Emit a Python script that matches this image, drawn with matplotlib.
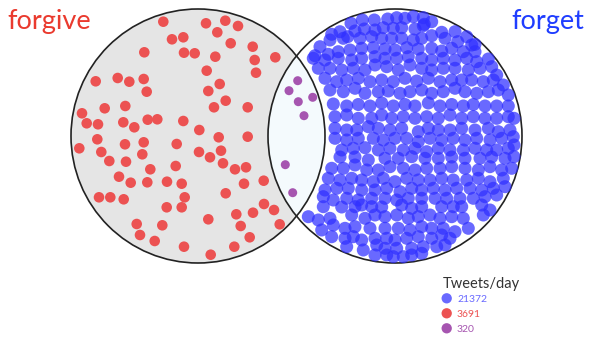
import numpy as np
import matplotlib
matplotlib.use("Agg")
import matplotlib.pyplot as plt
from matplotlib.patches import Circle

# circle layout, in picture pixels
left_center = (198, 136)
right_center = (395, 136)
radius = 127

# dots (pixel coords)
red_dots = [
    (163.3, 21.7), (206, 23.3), (225.3, 20.7), (238, 26), (217.3, 32.3), (172, 39.3),
    (183.3, 37.3), (230.7, 43.3), (252.7, 46.7), (144.3, 52.3), (184, 52.7), (194.7, 53.3),
    (215.3, 56.7), (275.3, 57.3), (254.7, 60), (206.7, 70.7), (256, 72.7), (95.7, 81.3),
    (117.7, 78), (129.3, 81.7), (143.7, 79), (219.7, 84), (146.7, 91.7), (208.3, 91),
    (225.7, 100.7), (104.7, 108.3), (125.3, 106), (214, 107.3), (247.7, 107.3), (82, 113.3),
    (86.7, 123.3), (98, 124.3), (123.3, 122.3), (134.3, 127.3), (147.7, 119.7), (157.3, 119.3),
    (183.3, 121), (199.3, 130),
    (79.3, 148.3), (97.3, 139.3), (125, 144.3), (143.7, 142.3), (176.7, 144), (218.7, 137.3),
    (247.7, 136.7), (101.3, 152), (142.3, 154.3), (199, 152), (210, 157.3), (221, 150.7),
    (109.3, 161), (126, 161.7), (150.3, 169.3), (175.7, 166), (223, 163.3), (235, 169.3),
    (246, 167.3), (119, 176.7), (130.7, 182.7), (147.3, 182.3), (167, 181.7), (181.7, 183.7),
    (244, 183.7), (263.7, 180.7), (99, 197.3), (110.3, 197.3), (123.7, 199.3), (184.7, 197.3),
    (225.7, 193.3), (166.7, 207.3), (181.7, 207.3), (264, 204), (274, 210), (236.3, 214.3),
    (253, 212.7), (208.3, 219.3), (136.7, 224), (162.3, 225.3), (240.7, 226), (279.7, 224.3),
    (140, 235), (154.7, 241), (249.7, 237.3), (184, 246.7), (234.3, 246.7), (210.7, 254.7),
]

purple_dots = [
    (297.7, 80.7), (289, 90.7), (312.7, 97.3), (298.3, 101.7), (304, 115.7),
    (285.3, 164.7), (292.7, 192.7),
]

blue_dots = [
    (351, 23.3), (362.3, 20), (374.3, 20), (387.7, 19), (396.7, 17.7), (405, 18.3),
    (413.3, 16.7), (423.3, 17.7), (431.7, 21.7), (424.3, 24.3),
    (331.7, 34.3), (340, 31.7), (347.7, 36.7), (355, 31), (364.3, 29), (375, 30),
    (383.3, 27.7), (393.3, 28.3), (401.7, 27.7), (415, 29), (423.3, 25.7), (441.7, 32.3),
    (455, 31.7), (466.7, 36.7), (475, 44.3),
    (320, 46.7), (330, 40), (343.3, 38.3), (360, 38.3), (371.7, 36.7), (381.7, 38.3),
    (391.7, 38.3), (401.7, 38.3), (413.3, 40), (421.7, 38.3), (431.7, 35.7), (445, 38.3),
    (457.7, 41.7), (471.7, 45),
    (315, 55.7), (328.3, 54.3), (338.3, 51.7), (350, 50), (361.7, 48.3), (373.3, 47.7),
    (385, 49), (395, 50), (406.7, 47.7), (418.3, 49), (431.7, 48.3), (441.7, 51),
    (451.7, 48.3), (463.3, 51.7), (475, 51.7), (488.3, 59),
    (313.3, 58.3), (325, 60), (338.3, 58.3), (351.7, 60), (361.7, 58.3), (375, 56.7),
    (385, 58.3), (396.7, 58.3), (408.3, 56.7), (421.7, 58.3), (431.7, 60), (443.3, 58.3),
    (455, 60), (466.7, 58.3), (476.7, 61.7),
    (318.3, 68.3), (330, 68.3), (341.7, 70), (353.3, 68.3), (365, 70), (375, 65),
    (386.7, 66.7), (398.3, 70), (410, 65), (421.7, 68.3), (431.7, 70), (443.3, 68.3),
    (455, 68.3), (468.3, 70), (480, 68.3), (491.7, 66.7), (496.7, 75),
    (325, 78.3), (336.7, 81.7), (346.7, 80), (358.3, 78.3), (370, 81.7), (381.7, 80),
    (393.3, 81.7), (405, 78.3), (416.7, 81), (428.3, 78.3), (440, 81.7), (451.7, 80),
    (461.7, 80), (471.7, 80), (483.3, 81.7), (493.3, 80), (503.3, 85),
    (330, 90), (343.3, 91.7), (355, 88.3), (365, 93.3), (378.3, 91.7), (388.3, 91),
    (400, 93.3), (410, 91.7), (421.7, 90), (431.7, 93.3), (443.3, 91.7), (455, 88.3),
    (465, 91.7), (476.7, 93.3), (488.3, 91.7), (498.3, 90), (508.3, 95),
    (333.3, 104), (346.7, 106), (358.3, 104.5), (370, 106), (381.7, 103), (393.3, 106),
    (405, 104.5), (415, 106), (428.3, 103), (440, 106), (451.7, 104.5), (463.3, 106),
    (473.3, 104.5), (485, 106), (496.7, 106), (508.3, 106),
    (335, 116.7), (346.7, 115), (358.3, 118.3), (371.7, 118.3), (381.7, 115), (391.7, 118.3),
    (403.3, 116.7), (415, 118.3), (426.7, 116.7), (438.3, 118.3), (450, 115), (461.7, 118.3),
    (473.3, 116.7), (485, 118.3), (496.7, 118.3), (508.3, 116.7), (514, 118.3),
    (335, 128.3), (346.7, 130), (356.7, 130), (368.3, 126.7), (378.3, 128.3), (390, 130),
    (401.7, 128.3), (418.3, 131.7), (428.3, 128.3), (438.3, 130), (450, 130), (461.7, 128.3),
    (475, 130), (488.3, 128.3), (498.3, 131.7), (510, 130),
    (335, 138.3), (346.7, 140), (358.3, 138.3), (373.3, 138.3), (383.3, 140), (395, 138.3),
    (406.7, 138.3), (418.3, 141.7), (430, 138.3), (441.7, 140), (453.3, 138.3), (465, 140),
    (476.7, 138.3), (490, 140), (501.7, 138.3), (513.3, 136.7),
    (341.7, 150), (353.3, 148.3), (365, 147.7), (378.3, 150), (390, 148.3), (403.3, 150),
    (415, 148.3), (426.7, 151.7), (438.3, 148.3), (450, 150), (463.3, 150), (475, 148.3),
    (486.7, 150), (496.7, 150), (508.3, 148.3), (514, 145),
    (340, 157), (355, 157), (368.3, 160), (385, 158.3), (398.3, 158.3), (411.7, 156.7),
    (425, 158.3), (438.3, 158.3), (451.7, 157), (465, 158.3), (480, 158.3), (491.7, 157),
    (505, 158.3), (514, 156.7),
    (331.7, 168.3), (343.3, 168.3), (355, 165), (366.7, 170), (378.3, 170), (390, 166.7),
    (403.3, 168.3), (415, 170), (426.7, 168.3), (440, 168.3), (451.7, 166.7), (465, 168.3),
    (478.3, 170), (490, 166.7), (501.7, 170), (511.7, 168.3),
    (328.3, 178.3), (340, 180), (351.7, 178.3), (361.7, 180), (373.3, 181.7), (383.3, 178.3),
    (395, 181.7), (406.7, 178.3), (418.3, 180), (430, 180), (441.7, 178.3), (453.3, 180),
    (466.7, 180), (478.3, 178.3), (490, 181.7), (503.3, 178.3),
    (325, 190), (336.7, 188.3), (348.3, 188.3), (361.7, 190), (375, 190), (386.7, 188.3),
    (400, 191.7), (411.7, 188.3), (421.7, 190), (433.3, 188.3), (445, 190), (456.7, 188.3),
    (470, 188.3), (481.7, 190), (493.3, 188.3), (505, 186.7),
    (323.3, 196.7), (333.3, 200), (346.7, 198.3), (358.3, 200), (371.7, 198.3), (385, 198.3),
    (396.7, 200), (408.3, 198.3), (421.7, 198.3), (435, 198.3), (446.7, 198.3), (460, 198.3),
    (473.3, 198.3), (485, 196.7), (496.7, 195),
    (323.3, 206.7), (341.7, 207), (355, 206.7), (361.7, 205), (371.7, 206.7), (381.7, 207),
    (401.7, 205), (411.7, 208.3), (421.7, 206.7), (441.7, 206.7), (453.3, 206.7),
    (461.7, 206.7), (481.7, 205), (490, 210),
    (308.3, 216.7), (318.3, 220), (330, 218.3), (351.7, 215), (365, 218.3), (375, 215),
    (385, 216.7), (396.7, 215), (408.3, 218.3), (418.3, 216.7), (430, 215), (440, 218.3),
    (451.7, 216.7), (463.3, 218.3), (483.3, 215),
    (321.7, 230), (333.3, 225), (345, 228.3), (355, 226.7), (370, 228.3), (385, 228.3),
    (398.3, 228.3), (410, 230), (421.7, 226.7), (431.7, 228.3), (443.3, 228.3), (455, 231.7),
    (468.3, 228.3),
    (331.7, 236.7), (345, 238.3), (353.3, 236.7), (361.7, 240), (375, 238.3), (386.7, 238.3),
    (395, 240), (406.7, 238.3), (418.3, 236.7), (431.7, 238.3), (441.7, 235), (450, 238.3),
    (346.7, 246.7), (363.3, 250), (376.7, 245), (385, 248.3), (396.7, 248.3), (411.7, 248.3),
    (423.3, 246.7), (436.7, 246.7), (445, 245),
    (375, 255), (386.7, 255), (393.3, 256.7), (403.3, 256.7), (411.7, 255), (421.7, 253.3),
]

set_names = ["forgive", "forget"]
legend_title = "Tweets/day"
legend_values = ["21372", "3691", "320"]

RED = "#ec5252"
BLUE = "#2f2fff"
PURPLE = "#a655b0"

fig = plt.figure(figsize=(5.9, 3.58), dpi=100)
ax = fig.add_axes([0, 0, 1, 1])
ax.set_xlim(0, 590)
ax.set_ylim(358, 0)
ax.set_aspect("equal")
ax.axis("off")

left = Circle(left_center, radius, facecolor="#e5e5e5", edgecolor="none", zorder=1)
ax.add_patch(left)
right = Circle(right_center, radius, facecolor="white", edgecolor="none", zorder=1)
ax.add_patch(right)
lens = Circle(right_center, radius, facecolor="#f4fafd", edgecolor="none", zorder=1.5)
ax.add_patch(lens)
lens.set_clip_path(left)
for c in (left_center, right_center):
    ax.add_patch(Circle(c, radius, facecolor="none", edgecolor="#222222", lw=1.2, zorder=2))

rx, ry = np.array(red_dots).T
px, py = np.array(purple_dots).T
bx, by = np.array(blue_dots).T
ax.scatter(rx, ry, s=58, color=RED, edgecolors="none", zorder=3)
ax.scatter(px, py, s=42, color=PURPLE, edgecolors="none", zorder=3)
ax.scatter(bx, by, s=88, color=BLUE, alpha=0.72, edgecolors="none", zorder=3)

ax.text(7, 29, set_names[0], color="#ea3a2e", fontsize=19.5, family="Lato",
        ha="left", va="baseline")
ax.text(584, 29, set_names[1], color="#1f3dff", fontsize=19.5, family="Lato",
        ha="right", va="baseline")

ax.text(443, 288, legend_title, color="#333333", fontsize=10.5, family="Lato",
        ha="left", va="baseline")
leg_colors = [(BLUE, 0.72), (RED, 1.0), (PURPLE, 1.0)]
for i, (val, (col, a)) in enumerate(zip(legend_values, leg_colors)):
    yy = 298.3 + 15 * i
    ax.scatter([446.7], [yy], s=55, color=col, alpha=a, edgecolors="none", zorder=3)
    ax.text(457, yy + 3.3, val, color=col, alpha=a, fontsize=7.5, family="Lato",
            ha="left", va="baseline")

fig.savefig("out.png", dpi=100)
